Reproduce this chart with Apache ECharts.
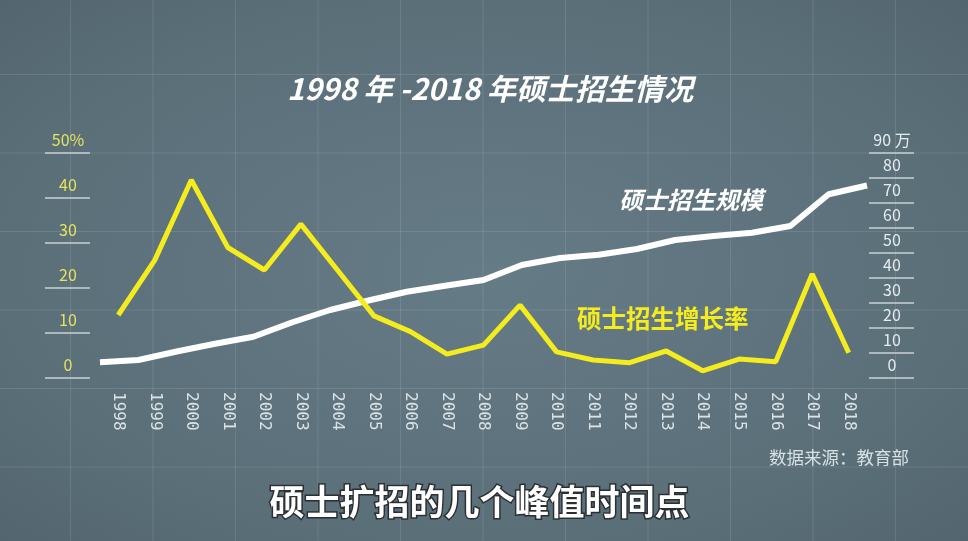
<!DOCTYPE html>
<html>
<head>
<meta charset="utf-8">
<script src="https://cdn.jsdelivr.net/npm/echarts@6/dist/echarts.min.js"></script>
<style>
    html, body { margin: 0; padding: 0; }
    #chart {
        width: 968px;
        height: 541px;
        background-color: #5d717c;
        background-image:
            linear-gradient(90deg, rgba(255,255,255,0.1) 1px, transparent 1px),
            linear-gradient(180deg, rgba(255,255,255,0.1) 1px, transparent 1px),
            radial-gradient(ellipse at center, #657b86 0%, #5b6f79 70%, #53666f 100%);
        background-size: 82.5px 100%, 100% 78.5px, 100% 100%;
        background-position: 70px 0, 0 74px, 0 0;
    }
</style>
</head>
<body>
<div id="chart"></div>
<script>
// 年份
var years = ['1998', '1999', '2000', '2001', '2002', '2003', '2004', '2005', '2006', '2007',
    '2008', '2009', '2010', '2011', '2012', '2013', '2014', '2015', '2016', '2017', '2018'];

// 硕士招生规模（万人）
var scaleValues = [6.3, 7.2, 10.6, 13.7, 16.5, 22.2, 27.2, 31.0, 34.5, 36.9,
    39.2, 45.2, 48.0, 49.3, 51.6, 55.2, 56.8, 58.1, 60.8, 73.5, 77.0];

// 硕士招生增长率（%）
var growthRates = [14.0, 26.2, 44.0, 29.0, 24.0, 34.2, 24.0, 13.8, 10.3, 5.3,
    7.3, 16.2, 5.8, 4.0, 3.4, 6.0, 1.6, 4.2, 3.6, 23.1, 5.6];

// 坐标轴刻度文字
var rateTickLabels = ['0', '10', '20', '30', '40', '50%'];
var scaleTickLabels = ['0', '10', '20', '30', '40', '50', '60', '70', '80', '90 万'];

var chart = echarts.init(document.getElementById('chart'), null, { renderer: 'canvas' });

var cjk = '"Noto Sans CJK SC", "Noto Sans", sans-serif';

var tickStyle = { color: '#c9d1d5', width: 1.5 };

var option = {
    backgroundColor: 'transparent',
    animation: false,
    title: {
        text: '1998 年 -2018 年硕士招生情况',
        left: 282,
        top: 69,
        textStyle: {
            color: '#ffffff',
            fontFamily: cjk,
            fontSize: 29.5,
            fontWeight: 'bold',
            fontStyle: 'italic'
        }
    },
    grid: [
        { left: 100, right: 101, top: 153, bottom: 163 },
        // 左侧刻度单独放一个窄网格
        { left: 90, width: 1, top: 153, bottom: 163 }
    ],
    xAxis: [
        {
            type: 'category',
            gridIndex: 0,
            data: years,
            boundaryGap: true,
            axisLine: { show: false },
            axisTick: { show: false },
            splitLine: { show: false },
            axisLabel: {
                rotate: -90,
                margin: 14,
                color: '#dbe3e6',
                fontFamily: '"DejaVu Sans Mono", monospace',
                fontSize: 16
            }
        },
        {
            // 规模曲线单独铺满绘图区
            type: 'value',
            gridIndex: 0,
            min: 0,
            max: years.length - 1,
            show: false
        },
        {
            type: 'value',
            gridIndex: 1,
            show: false
        }
    ],
    yAxis: [
        {
            type: 'value',
            gridIndex: 0,
            min: 0,
            max: 50,
            show: false
        },
        {
            type: 'value',
            gridIndex: 0,
            position: 'right',
            offset: 2,
            min: 0,
            max: 90,
            interval: 10,
            axisLine: { show: false },
            splitLine: { show: false },
            axisTick: { show: true, length: 45, lineStyle: tickStyle },
            axisLabel: {
                margin: 23,
                align: 'center',
                verticalAlign: 'bottom',
                padding: [0, 0, 5, 0],
                color: '#e6ecee',
                fontFamily: cjk,
                fontSize: 16,
                formatter: function (v) {
                    return scaleTickLabels[Math.round(v / 10)];
                }
            }
        },
        {
            type: 'value',
            gridIndex: 1,
            position: 'left',
            min: 0,
            max: 50,
            interval: 10,
            axisLine: { show: false },
            splitLine: { show: false },
            axisTick: { show: true, length: 45, lineStyle: tickStyle },
            axisLabel: {
                margin: 22,
                align: 'center',
                verticalAlign: 'bottom',
                padding: [0, 0, 5, 0],
                color: '#e4e45e',
                fontFamily: cjk,
                fontSize: 16,
                formatter: function (v) {
                    return rateTickLabels[Math.round(v / 10)];
                }
            }
        }
    ],
    series: [
        {
            name: '硕士招生规模',
            type: 'line',
            xAxisIndex: 1,
            yAxisIndex: 1,
            symbol: 'none',
            lineStyle: { color: '#ffffff', width: 6 },
            data: scaleValues.map(function (v, i) { return [i, v]; }),
            z: 3
        },
        {
            name: '硕士招生增长率',
            type: 'line',
            xAxisIndex: 0,
            yAxisIndex: 0,
            symbol: 'none',
            lineStyle: { color: '#f4ec1c', width: 5 },
            data: growthRates,
            z: 4
        }
    ],
    graphic: [
        {
            type: 'text',
            left: 619,
            top: 188,
            style: {
                text: '硕士招生规模',
                fill: '#ffffff',
                font: 'italic bold 24px ' + cjk
            }
        },
        {
            type: 'text',
            left: 577,
            top: 306,
            style: {
                text: '硕士招生增长率',
                fill: '#f4ec1c',
                font: 'bold 24.5px ' + cjk
            }
        },
        {
            type: 'text',
            left: 769,
            top: 449,
            style: {
                text: '数据来源：教育部',
                fill: '#d9e0e3',
                font: '17.5px ' + cjk
            }
        },
        {
            type: 'text',
            left: 268,
            top: 483,
            style: {
                text: '硕士扩招的几个峰值时间点',
                fill: '#ffffff',
                stroke: '#2b2f33',
                lineWidth: 3,
                font: 'bold 35px ' + cjk
            }
        }
    ]
};

chart.setOption(option);
</script>
</body>
</html>
